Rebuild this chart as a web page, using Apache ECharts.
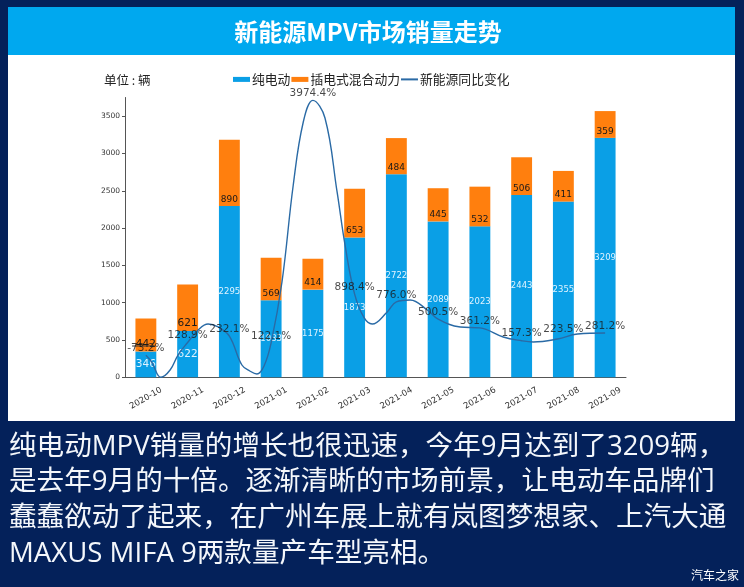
<!DOCTYPE html>
<html>
<head>
<meta charset="utf-8">
<style>
  html, body { margin: 0; padding: 0; background: #04215a; }
  #chart { width: 744px; height: 587px; }
</style>
<script src="https://cdn.jsdelivr.net/npm/echarts@6/dist/echarts.min.js"></script>
</head>
<body>
<div id="chart"></div>
<script>
const months = ['2020-10', '2020-11', '2020-12', '2021-01', '2021-02', '2021-03', '2021-04', '2021-05', '2021-06', '2021-07', '2021-08', '2021-09']
const bevSales = [346, 622, 2295, 1033, 1175, 1873, 2722, 2089, 2023, 2443, 2355, 3209]
const phevSales = [442, 621, 890, 569, 414, 653, 484, 445, 532, 506, 411, 359]
const yoyPct = [-73.2, 128.9, 232.1, 122.1, 3974.4, 898.4, 776.0, 500.5, 361.2, 157.3, 223.5, 281.2]
const yTicks = [0, 500, 1000, 1500, 2000, 2500, 3000, 3500]

// the yoy curve, x in month positions (it swings past the monthly points)
const curveX = [0, 0.14, 0.36, 0.58, 0.77, 1, 1.25, 1.49, 1.73, 2, 2.3, 2.49, 2.66, 2.83, 3, 3.26, 3.53, 3.77, 4, 4.29, 4.58, 4.77, 5, 5.23, 5.42, 5.78, 6, 6.33, 6.74, 7, 7.53, 8, 8.56, 9, 9.28, 9.86, 10.34, 11]
const curvePct = [-73.2, -180, -423, -307, -69, 128.9, 328, 423, 376, 232.1, -228, -323, -371, -244, 122.1, 1090, 2631, 3631, 3974.4, 3695, 2520, 1678, 898.4, 519, 423, 614, 776, 805, 646, 500.5, 376, 361.2, 217, 157.3, 138, 185, 265, 281.2]
const stubX = [-0.33, 0.22]
const stubPct = [74, 74]

const titleText = '新能源MPV市场销量走势'
const unitText = '单位 : 辆'
const bodyLines = [
  '纯电动MPV销量的增长也很迅速，今年9月达到了3209辆，',
  '是去年9月的十倍。逐渐清晰的市场前景，让电动车品牌们',
  '蠢蠢欲动了起来，在广州车展上就有岚图梦想家、上汽大通',
  'MAXUS MIFA 9两款量产车型亮相。'
]
const watermark = '汽车之家'

const latin = '"DejaVu Sans", sans-serif'
const cjk = '"Noto Sans CJK SC", sans-serif'
const bodyFont = '"Open Sans", "Noto Sans CJK SC", sans-serif'
const lineColor = '#2a6aa5'

const myChart = echarts.init(document.querySelector('#chart'))

function bigFirst(value, i, extra) {
  // the first two months carry slightly larger labels in the reference
  return { value: value, label: { fontSize: i < 2 ? 10.5 : extra } }
}

const option = {
  backgroundColor: '#04215a',
  animation: false,
  legend: {
    left: 228, top: 68,
    itemWidth: 17, itemHeight: 5, itemGap: 1,
    textStyle: { fontFamily: cjk, fontSize: 12.8, color: '#222', padding: [0, 0, 0, -3] },
    data: [
      { name: '纯电动', icon: 'rect' },
      { name: '插电式混合动力', icon: 'rect' },
      { name: '新能源同比变化', icon: 'path://M0,0H17V2H0Z' }
    ]
  },
  grid: { left: 125, width: 501, top: 97.5, height: 279.8 },
  xAxis: [
    {
      type: 'category', data: months,
      axisLine: { onZero: false, lineStyle: { color: '#555' } },
      axisTick: { length: 3, alignWithLabel: true, lineStyle: { color: '#555' } },
      axisLabel: { interval: 0, rotate: 30, align: 'center', verticalAlign: 'middle', margin: 21, fontFamily: latin, fontSize: 8.5, color: '#333' }
    },
    { type: 'value', min: -0.5, max: 11.5, show: false }
  ],
  yAxis: [
    {
      type: 'value', min: 0, max: 3750,
      splitLine: { show: false },
      axisLine: { show: true, onZero: false, lineStyle: { color: '#555' } },
      axisTick: { show: true, length: 3, customValues: yTicks, lineStyle: { color: '#555' } },
      axisLabel: { customValues: yTicks, margin: 5, fontFamily: latin, fontSize: 7.5, color: '#333', formatter: (v) => String(v) }
    },
    { type: 'value', min: -423, max: 4020, show: false }
  ],
  series: [
    {
      name: '纯电动', type: 'bar', stack: 'sales', barWidth: '50%',
      itemStyle: { color: '#0a9fe6' },
      label: { show: true, position: 'inside', fontFamily: latin, color: '#dff3ff' },
      data: bevSales.map((v, i) => bigFirst(v, i, 8.5))
    },
    {
      name: '插电式混合动力', type: 'bar', stack: 'sales', barWidth: '50%',
      itemStyle: { color: '#ff7f0e' },
      label: { show: true, position: 'insideBottom', distance: 2, fontFamily: latin, color: '#1a1a1a' },
      data: phevSales.map((v, i) => bigFirst(v, i, 9))
    },
    {
      name: '新能源同比变化', type: 'line', xAxisIndex: 1, yAxisIndex: 1,
      smooth: 0.4, showSymbol: false, z: 5,
      itemStyle: { color: lineColor },
      lineStyle: { color: lineColor, width: 1.4 },
      data: curveX.map((x, i) => [x, curvePct[i]])
    },
    {
      type: 'line', xAxisIndex: 1, yAxisIndex: 1, showSymbol: false, z: 5,
      lineStyle: { color: '#333', width: 1 },
      data: stubX.map((x, i) => [x, stubPct[i]])
    },
    {
      type: 'scatter', yAxisIndex: 1, symbolSize: 1, z: 6,
      itemStyle: { color: 'transparent' },
      label: { show: true, position: 'top', distance: 1, fontFamily: latin, fontSize: 10.5, color: '#1a1a1a', formatter: (p) => p.value.toFixed(1) + '%' },
      data: yoyPct
    }
  ],
  graphic: [
    { type: 'rect', z: -2, shape: { x: 8, y: 7, width: 727, height: 48 }, style: { fill: '#00a8ef' } },
    { type: 'rect', z: -2, shape: { x: 8, y: 55, width: 727, height: 366 }, style: { fill: '#ffffff' } },
    { type: 'text', z: 10, x: 368, y: 32, style: { text: titleText, fill: '#fff', font: 'bold 24px ' + cjk, textAlign: 'center', textVerticalAlign: 'middle' } },
    { type: 'text', z: 10, x: 104, y: 80, style: { text: unitText, fill: '#222', font: '12.5px ' + cjk, textVerticalAlign: 'middle' } },
    { type: 'text', z: 10, x: 691, y: 575, style: { text: watermark, fill: '#fff', font: '12px ' + cjk, textVerticalAlign: 'middle' } }
  ].concat(bodyLines.map((line, i) => (
    { type: 'text', z: 10, x: 9, y: 447 + i * 35.6, style: { text: line, fill: '#f4f7fb', font: '27.6px ' + bodyFont, textVerticalAlign: 'middle' } }
  )))
}

myChart.setOption(option)
</script>
</body>
</html>
